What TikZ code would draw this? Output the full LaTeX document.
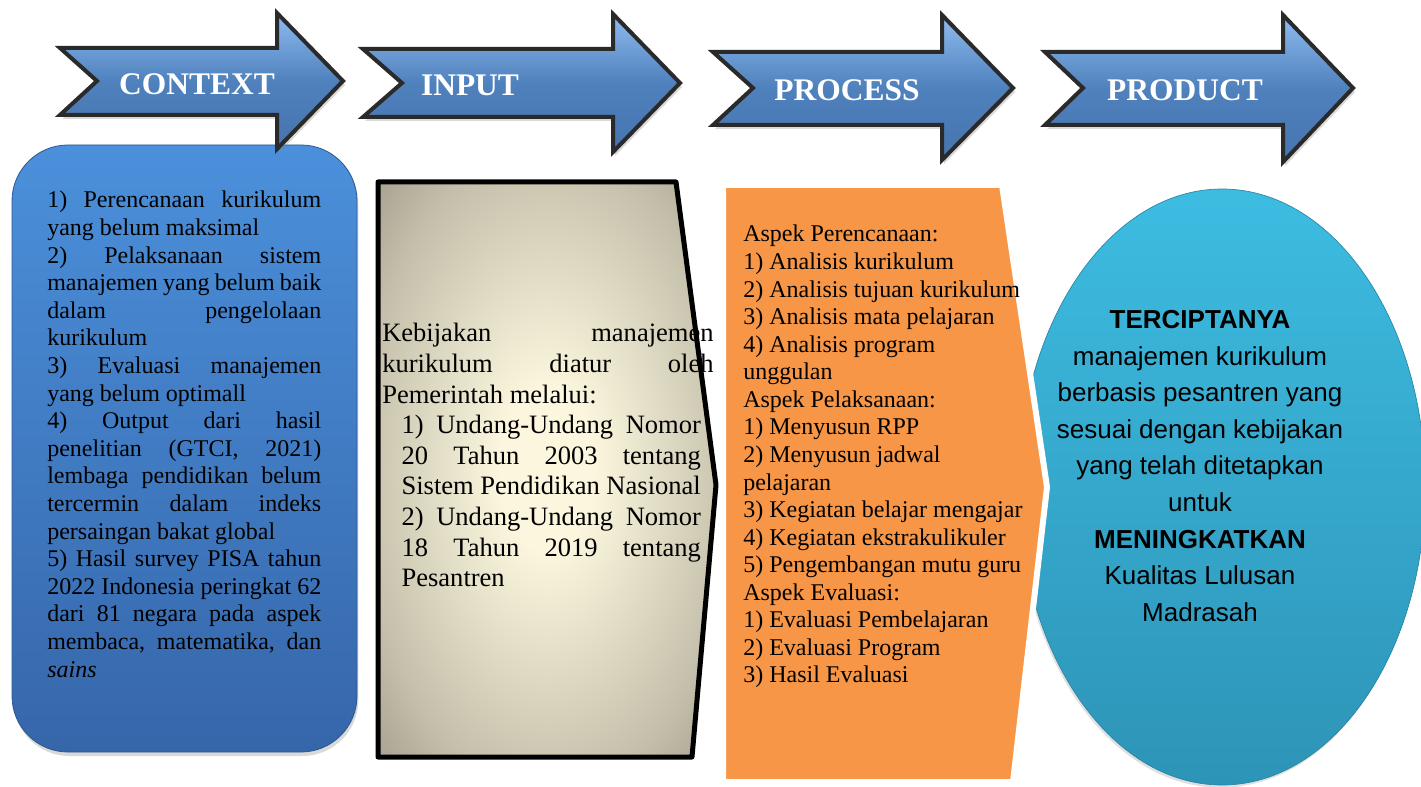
\documentclass[tikz,border=0pt]{standalone}
\usepackage{fontspec}
\setmainfont{Liberation Serif}
\newfontfamily\arialfont{Liberation Sans}
\usetikzlibrary{shadows}
\definecolor{arrowmain}{HTML}{4F81BD}
\definecolor{arrowlight}{HTML}{8FBCF0}
\definecolor{arrowdark}{HTML}{4674AE}
\definecolor{arrowline}{HTML}{2A2A2A}
\definecolor{ctxtop}{HTML}{4B90DB}
\definecolor{ctxbot}{HTML}{3666AA}
\definecolor{creamc}{HTML}{FBF6DD}
\definecolor{greyc}{HTML}{8E8B7B}
\definecolor{midc}{HTML}{C4BFAA}
\definecolor{orangec}{HTML}{F79646}
\definecolor{cyantop}{HTML}{3DBCE1}
\definecolor{cyanbot}{HTML}{2D94B7}
\pgfdeclareradialshading{inputshade}{\pgfpoint{0bp}{0bp}}{color(0bp)=(creamc); color(7bp)=(creamc); color(28bp)=(midc); color(42bp)=(greyc); color(50bp)=(greyc)}
\begin{document}
\begin{tikzpicture}[x=0.75pt,y=-0.75pt,
  arrowshape/.style={draw=arrowline, line width=3pt, line join=miter,
    top color=arrowlight, bottom color=arrowdark, middle color=arrowmain,
    drop shadow={opacity=0.3, shadow xshift=1.5pt, shadow yshift=-3pt}},
  arrowtext/.style={text=white, font=\fontsize{23.6}{28}\selectfont\bfseries, inner sep=0pt},
  ctxbox/.style={top color=ctxtop, bottom color=ctxbot, draw=ctxbot!85!black, line width=0.6pt,
    rounded corners=42pt, drop shadow={opacity=0.3, shadow xshift=1pt, shadow yshift=-3pt}},
  inbox/.style={shading=inputshade},
  inborder/.style={draw=black, line width=3.75pt, line join=round},
  procbox/.style={draw=white, line width=4.5pt, fill=orangec, line join=round,
    drop shadow={opacity=0.2, shadow xshift=0pt, shadow yshift=-1.5pt}},
  prodcircle/.style={top color=cyantop, bottom color=cyanbot, draw=cyanbot!90!black, line width=0.5pt,
    drop shadow={opacity=0.25, shadow xshift=-1pt, shadow yshift=-2pt}},
  txt/.style={inner sep=0pt}
]
\useasboundingbox (0,0) rectangle (1421,787);

% PRODUCT circle (behind)
\path[prodcircle] (1222,487) ellipse [x radius=152.5pt, y radius=223.5pt];
\node[txt, font=\arialfont\fontsize{19.5}{27.4}\selectfont, align=center] (prodtext) at (1200,466)
  {\textbf{TERCIPTANYA}\\ manajemen kurikulum\\ berbasis pesantren yang\\ sesuai dengan kebijakan\\ yang telah ditetapkan\\ untuk\\ \textbf{MENINGKATKAN}\\ Kualitas Lulusan\\ Madrasah};

% CONTEXT box
\path[ctxbox] (12,145) rectangle (357,752);
\node[txt, anchor=base west] (ctxtext) at (47,208) {\begin{minipage}[t]{205.5pt}\fontsize{18}{20.7}\selectfont
\hyphenpenalty=10000 \exhyphenpenalty=10000 \tolerance=10000
1) Perencanaan kurikulum\linebreak yang belum maksimal\par
2) Pelaksanaan sistem\linebreak manajemen yang belum baik\linebreak dalam pengelolaan\linebreak kurikulum\par
3) Evaluasi manajemen\linebreak yang belum optimall\par
4) Output dari hasil\linebreak penelitian (GTCI, 2021)\linebreak lembaga pendidikan belum\linebreak tercermin dalam indeks\linebreak persaingan bakat global\par
5) Hasil survey PISA tahun\linebreak 2022 Indonesia peringkat 62\linebreak dari 81 negara pada aspek\linebreak membaca, matematika, dan\linebreak \textit{sains}
\end{minipage}};

% INPUT box
\path[inbox] (378,182) -- (676,182) -- (716,485) -- (692,757) -- (378,757) -- cycle;
\node[txt, anchor=base west] (intext) at (382,342) {\begin{minipage}[t]{248.5pt}\fontsize{19.9}{22.95}\selectfont
\hyphenpenalty=10000 \exhyphenpenalty=10000 \tolerance=10000
Kebijakan manajemen\linebreak kurikulum diatur oleh\linebreak Pemerintah melalui:\par
\leftskip=14.5pt \rightskip=9.5pt
1) Undang-Undang Nomor\linebreak 20 Tahun 2003 tentang\linebreak Sistem Pendidikan Nasional\par
2) Undang-Undang Nomor\linebreak 18 Tahun 2019 tentang\linebreak Pesantren\par
\end{minipage}};
\path[inborder] (378,182) -- (676,182) -- (716,485) -- (692,757) -- (378,757) -- cycle;

% PROCESS box
\path[procbox] (723,185) -- (1002,185) -- (1047,487) -- (1013,782) -- (723,782) -- cycle;
\node[txt, anchor=base west] (proctext) at (743,242) {\begin{minipage}[t]{225pt}\fontsize{18}{20.67}\selectfont
Aspek Perencanaan:\\
1) Analisis kurikulum\\
2) Analisis tujuan kurikulum\\
3) Analisis mata pelajaran\\
4) Analisis program\\
unggulan\\
Aspek Pelaksanaan:\\
1) Menyusun RPP\\
2) Menyusun jadwal\\
pelajaran\\
3) Kegiatan belajar mengajar\\
4) Kegiatan ekstrakulikuler\\
5) Pengembangan mutu guru\\
Aspek Evaluasi:\\
1) Evaluasi Pembelajaran\\
2) Evaluasi Program\\
3) Hasil Evaluasi
\end{minipage}};

% Arrows
\path[arrowshape] (60,48) -- (277,48) -- (277,13) -- (343,81) -- (277,149) -- (277,115) -- (60,115) -- (97,81) -- cycle;
\node[arrowtext] (ctxlbl) at (197,84) {CONTEXT};
\path[arrowshape] (363,49) -- (613,49) -- (613,14) -- (680,83) -- (613,152) -- (613,117) -- (363,117) -- (402,83) -- cycle;
\node[arrowtext] (inlbl) at (470,85) {INPUT};
\path[arrowshape] (713,52) -- (942,52) -- (942,15) -- (1013,88) -- (942,160) -- (942,125) -- (713,125) -- (753,88) -- cycle;
\node[arrowtext] (proclbl) at (847,90) {PROCESS};
\path[arrowshape] (1045,52) -- (1283,52) -- (1283,15) -- (1353,88) -- (1283,162) -- (1283,125) -- (1045,125) -- (1083,88) -- cycle;
\node[arrowtext] (prodlbl) at (1185,90) {PRODUCT};
\end{tikzpicture}
\end{document}
